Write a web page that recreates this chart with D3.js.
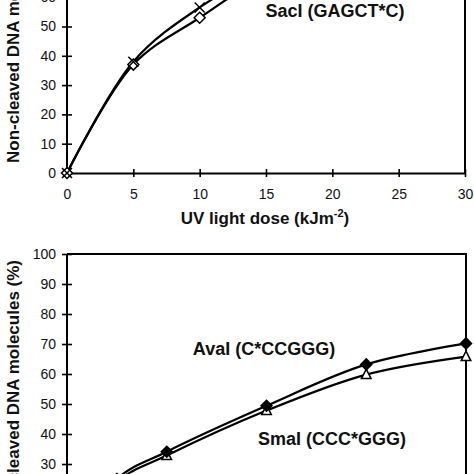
<!DOCTYPE html>
<html><head><meta charset="utf-8">
<script src="https://cdn.jsdelivr.net/npm/d3@7"></script>
<style>
html,body{margin:0;padding:0;background:#fff;}
svg{display:block;}
text{font-family:"Liberation Sans",Arial,sans-serif;}
</style></head>
<body>
<svg id="c" width="474" height="474"></svg>
<script>
// ---- data ----
const topDoses = [0, 5, 10, 15, 20, 25, 30];
const sacCross = [0, 38, 56.5, 69, 75, 79, 82];
const sacDiamond = [0, 37, 53, 67, 73, 77, 80];
const botDoses = [0, 5, 10, 20, 30, 40];
const avaValues = [0, 25, 34.1, 49.4, 63.2, 70.2];
const smaValues = [0, 24, 32.8, 47.8, 59.8, 65.8];
const topXTicks = [0, 5, 10, 15, 20, 25, 30];
const botXTicks = [];   // bottom x axis lies below the visible crop
const topYTicks = [0, 10, 20, 30, 40, 50, 60];
const botYTicks = [30, 40, 50, 60, 70, 80, 90, 100];

const svg = d3.select("#c");

// ---- scales ----
const xTop = d3.scaleLinear().domain([0, 30]).range([67, 465]);
const yTop = d3.scaleLinear().domain([0, 100]).range([173, -120]);
const xBot = d3.scaleLinear().domain([0, 40]).range([67, 466]);
const yBot = d3.scaleLinear().domain([0, 100]).range([554, 254]);

function styleAxis(g) {
  g.select(".domain").attr("stroke", "#000").attr("stroke-width", 2);
  g.selectAll(".tick line").attr("stroke", "#000").attr("stroke-width", 1.6);
  g.selectAll(".tick text").attr("font-size", 14).attr("fill", "#111")
    .attr("font-family", "'Liberation Sans',Arial,sans-serif");
}

function panel(x, y, xTicks, yTicks) {
  const g = svg.append("g");
  g.append("path")
    .attr("d", `M${x.range()[0]},${y(100)}H${x.range()[1]}V${y(0)}`)
    .attr("fill", "none").attr("stroke", "#000").attr("stroke-width", 2);
  const ya = g.append("g").attr("transform", `translate(${x.range()[0]},0)`)
    .call(d3.axisLeft(y).tickValues(yTicks).tickSize(5).tickPadding(6).tickSizeOuter(0));
  ya.select(".domain").attr("d", `M0,${y(0)}V${y(100)}`);
  ya.selectAll(".tick line").attr("x1", 5);
  styleAxis(ya);
  const xa = g.append("g").attr("transform", `translate(0,${y(0)})`)
    .call(d3.axisBottom(x).tickValues(xTicks).tickSize(4).tickPadding(12).tickSizeOuter(0));
  xa.selectAll(".tick line").attr("y1", -4);
  styleAxis(xa);
  return g;
}

const gTop = panel(xTop, yTop, topXTicks, topYTicks);
const gBot = panel(xBot, yBot, botXTicks, botYTicks);

const curve = d3.curveCatmullRom.alpha(0.5);
function series(g, x, y, xs, vs) {
  const line = d3.line().x((d, i) => x(xs[i])).y(d => y(d)).curve(curve);
  g.append("path").attr("d", line(vs)).attr("fill", "none")
    .attr("stroke", "#000").attr("stroke-width", 2.2);
}

const diamondPath = "M0,-5.5L5.5,0L0,5.5L-5.5,0Z";
const crossPath = "M-5,-5L5,5M-5,5L5,-5";
const triPath = "M0,-5.5L4.8,4L-4.8,4Z";

function markers(g, x, y, xs, vs, path, fill) {
  g.append("g").selectAll("path").data(vs).join("path")
    .attr("transform", (d, i) => `translate(${x(xs[i])},${y(d)})`)
    .attr("d", path)
    .attr("fill", fill)
    .attr("stroke", "#000").attr("stroke-width", 1.5);
}

// top panel
series(gTop, xTop, yTop, topDoses, sacDiamond);
series(gTop, xTop, yTop, topDoses, sacCross);
markers(gTop, xTop, yTop, topDoses, sacDiamond, diamondPath, "#fff");
markers(gTop, xTop, yTop, topDoses, sacCross, crossPath, "none");

// bottom panel
series(gBot, xBot, yBot, botDoses, smaValues);
series(gBot, xBot, yBot, botDoses, avaValues);
markers(gBot, xBot, yBot, botDoses, smaValues, triPath, "#fff");
markers(gBot, xBot, yBot, botDoses, avaValues, diamondPath, "#000");

// labels
function bold(txt, x, y, size, anchor) {
  return svg.append("text").attr("x", x).attr("y", y)
    .attr("font-size", size).attr("font-weight", "bold")
    .attr("text-anchor", anchor || "middle").attr("fill", "#111").text(txt);
}
bold("SacI (GAGCT*C)", 335, 17, 18);
bold("AvaI (C*CCGGG)", 264, 355, 18);
bold("SmaI (CCC*GGG)", 332, 445, 18);

// x axis title with superscript
const xt = svg.append("text").attr("x", 265).attr("y", 224)
  .attr("font-size", 17).attr("font-weight", "bold")
  .attr("text-anchor", "middle").attr("fill", "#111");
xt.append("tspan").text("UV light dose (kJm");
xt.append("tspan").attr("font-size", 11).attr("dy", -7).text("-2");
xt.append("tspan").attr("dy", 7).text(")");

// y axis titles
svg.append("text").attr("transform", "translate(19,163) rotate(-90)")
  .attr("font-size", 17).attr("font-weight", "bold").attr("text-anchor", "start")
  .attr("fill", "#111").text("Non-cleaved DNA molecules (%)");
svg.append("text").attr("transform", "translate(19,260) rotate(-90)")
  .attr("font-size", 17).attr("font-weight", "bold").attr("text-anchor", "end")
  .attr("fill", "#111").text("Non-cleaved DNA molecules (%)");
</script>
</body></html>
